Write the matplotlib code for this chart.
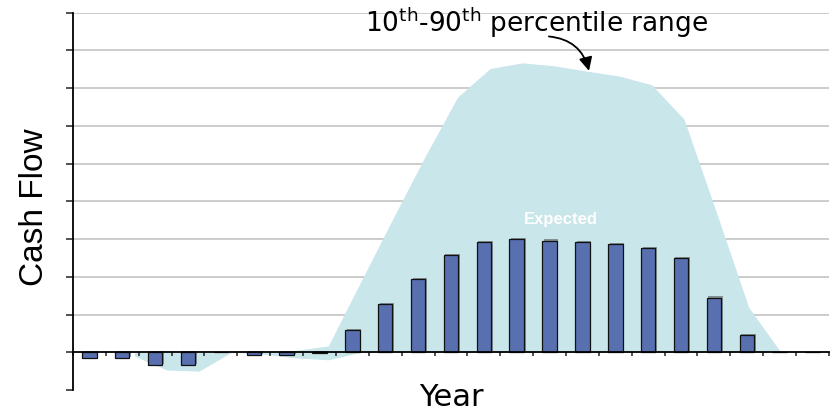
import matplotlib
matplotlib.use('Agg')
import numpy as np
import matplotlib.pyplot as plt
import matplotlib.patheffects as pe

plt.rcParams['mathtext.fontset'] = 'dejavusans'

# expected cash flow per year (bars)
years = list(range(23))
expected = [-0.16, -0.16, -0.34, -0.34, 0.0, -0.07, -0.07, -0.02, 0.58, 1.27, 1.94, 2.57,
            2.93, 2.99, 2.96, 2.91, 2.86, 2.76, 2.49, 1.45, 0.45, 0.0, 0.0]

# 10th-90th percentile band (shaded area)
band_x = [1.37, 2.35, 3.34, 4.32, 5.30, 6.29, 7.27, 8.25, 9.24, 10.22, 11.20,
          12.19, 13.17, 14.16, 15.14, 16.12, 17.11, 18.09, 19.08, 20.06, 21.04]
band_p10 = [-0.10, -0.47, -0.50, 0.0, -0.05, -0.15, -0.20, 0.0, 0.0, 0.0, 0.0,
            0.0, 0.0, 0.0, 0.0, 0.0, 0.0, 0.0, 0.0, 0.0, 0.0]
band_p90 = [0.0, 0.0, 0.0, 0.0, 0.0, 0.05, 0.17, 1.86, 3.55, 5.20, 6.76,
            7.52, 7.67, 7.59, 7.45, 7.32, 7.09, 6.18, 3.70, 1.19, 0.0]

grid_levels = list(range(1, 10))

fig = plt.figure(figsize=(8.31, 4.12), dpi=100)
ax = fig.add_axes([0.0878, 0.0534, 0.9097, 0.9158])

ax.hlines(grid_levels, -0.5, 22.5, color='#c4c4c4', lw=1.2, zorder=0)
ax.fill_between(band_x, band_p10, band_p90, color='#c9e6ea', lw=0, zorder=1)

shadow = [pe.SimplePatchShadow(offset=(1.2, 0.8), shadow_rgbFace='#555555', alpha=0.6), pe.Normal()]
ax.bar(years, expected, width=0.44, color='#5870b0', edgecolor='#111111', lw=0.9,
       zorder=3, path_effects=shadow)

ax.set_xlim(-0.5, 22.5)
ax.set_ylim(-1, 9)
ax.set_xticks(np.arange(-0.5, 23, 1))
ax.set_yticks(range(-1, 10))
ax.set_xticklabels([])
ax.set_yticklabels([])
ax.tick_params(axis='y', direction='out', length=5, width=1.1, color='#222222')
ax.tick_params(axis='x', direction='out', length=3, width=1.1, color='#222222')

for s in ['top', 'right']:
    ax.spines[s].set_visible(False)
ax.spines['bottom'].set_position(('data', 0))
ax.spines['bottom'].set_zorder(4)
ax.spines['bottom'].set_linewidth(1.3)
ax.spines['left'].set_linewidth(1.3)

ax.text(14.33, 3.53, 'Expected', color='white', fontsize=12, fontweight='bold',
        family='Liberation Sans', ha='center', va='center', zorder=5)

ax.text(13.59, 8.49, r'10$^{\mathrm{th}}$-90$^{\mathrm{th}}$ percentile range',
        fontsize=19, ha='center', va='baseline', zorder=6)
ax.annotate('', xy=(15.2, 7.46), xytext=(13.98, 8.37),
            arrowprops=dict(arrowstyle='-|>', color='black', lw=1.3, mutation_scale=20,
                            connectionstyle='arc3,rad=-0.35', shrinkA=0, shrinkB=0),
            zorder=6)

fig.text(35 / 831, 1 - 207 / 412, 'Cash Flow', rotation=90, ha='center', va='center',
         fontsize=24, family='Liberation Sans')
fig.text(451 / 831, 1 - 398 / 412, 'Year', ha='center', va='center', fontsize=22)

fig.savefig('out.png', dpi=100)
